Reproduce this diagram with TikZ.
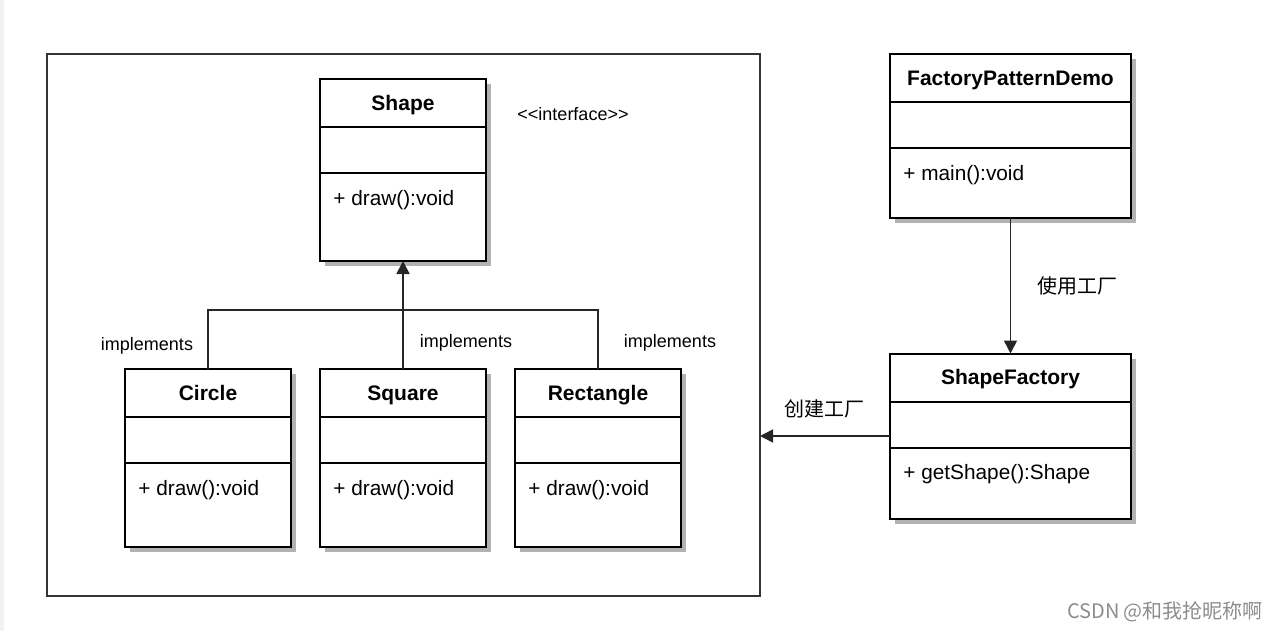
\documentclass[tikz,border=0pt]{standalone}
\usepackage{fontspec}
\setmainfont{Liberation Sans}
\newfontfamily\cjk{Noto Sans CJK SC}
\usetikzlibrary{positioning, fit, arrows.meta, shadows}

\tikzset{
  cls/.style={draw, line width=1pt, fill=white, outer sep=0pt, inner sep=0pt, minimum width=83pt,
    drop shadow={shadow xshift=2.5pt, shadow yshift=-2.5pt, fill=black!30, opacity=1}},
  wide/.style={minimum width=120.5pt},
  hd/.style={cls, minimum height=24pt, text height=7.4pt, text depth=0pt, font=\bfseries\fontsize{10.5}{12}\selectfont},
  att/.style={cls, minimum height=23pt},
  mth/.style={cls, minimum height=#1},
  mtext/.style={anchor=north west, inner sep=0pt, xshift=6.5pt, yshift=-8.5pt, font=\fontsize{10.4}{12}\selectfont},
  lbl/.style={font=\fontsize{9}{11}\selectfont},
  cjklbl/.style={font=\cjk\fontsize{10}{12}\selectfont},
  conn/.style={line width=0.8pt, draw=black!85},
  tri/.style={conn, -{Triangle[length=6.5pt, width=6.5pt]}},
}

\begin{document}
\begin{tikzpicture}[x=0.5pt, y=-0.5pt]
		\useasboundingbox (0,0) rectangle (1276,631);
		\fill[black!5] (0,0) rectangle (4,631);
		
		\node[draw=black!80, line width=1pt, minimum width=356.5pt, minimum height=271pt, inner sep=0pt, outer sep=0pt] (pkg) at (403.5,325) {};
		
		\node[hd] (shapeH) at (403,103) {Shape};
		\node[att, below=0pt of shapeH] (shapeA) {};
		\node[mth=44pt, below=0pt of shapeA, label={[mtext]north west:{+ draw():void}}] (shapeM) {};
		\node[lbl] (iface) at (573,114) {<{}<interface>{}>};
		
		\node[hd] (circH) at (208,393) {Circle};
		\node[att, below=0pt of circH] (circA) {};
		\node[mth=42pt, below=0pt of circA, label={[mtext]north west:{+ draw():void}}] (circM) {};
		
		\node[hd] (sqH) at (403,393) {Square};
		\node[att, below=0pt of sqH] (sqA) {};
		\node[mth=42pt, below=0pt of sqA, label={[mtext]north west:{+ draw():void}}] (sqM) {};
		
		\node[hd] (rectH) at (598,393) {Rectangle};
		\node[att, below=0pt of rectH] (rectA) {};
		\node[mth=42pt, below=0pt of rectA, label={[mtext]north west:{+ draw():void}}] (rectM) {};
		
		\node[hd, wide] (fpdH) at (1010.5,78) {FactoryPatternDemo};
		\node[att, wide, below=0pt of fpdH] (fpdA) {};
		\node[mth=35pt, wide, below=0pt of fpdA, label={[mtext]north west:{+ main():void}}] (fpdM) {};
		
		\node[hd, wide] (sfH) at (1010.5,377.5) {ShapeFactory};
		\node[att, wide, below=0pt of sfH] (sfA) {};
		\node[mth=35.5pt, wide, below=0pt of sfA, label={[mtext]north west:{+ getShape():Shape}}] (sfM) {};
		\node[fit=(sfH)(sfM), inner sep=0pt] (sf) {};
		
		\node[lbl] (impl1) at (147,346) {implements};
		\node[lbl] (impl2) at (466,343) {implements};
		\node[lbl] (impl3) at (670,343) {implements};
		
		\coordinate (bus) at (403,310);
		\draw[conn] (circH.north) |- (bus) -| (rectH.north);
		\draw[tri] (sqH.north) -- (shapeM.south);
		
		\draw[tri] (fpdM.south) -- (sfH.north) node[cjklbl, midway, right=10pt] (use) {使用工厂};
		\draw[tri] (sf.west) -- (sf.west -| pkg.east) node[cjklbl, midway, above=5pt] (make) {创建工厂};
		
		\node[font=\cjk\fontsize{10}{12}\selectfont, text=black!45] (mark) at (1165,612) {CSDN @和我抢昵称啊};
		\end{tikzpicture}
\end{document}
